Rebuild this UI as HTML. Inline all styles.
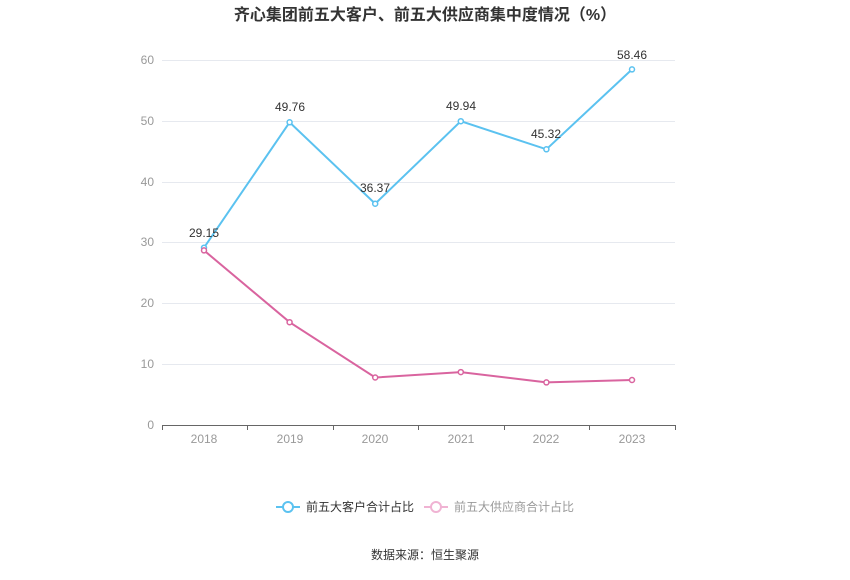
<!DOCTYPE html>
<html><head><meta charset="utf-8"><style>
body{margin:0;background:#fff;font-family:"Liberation Sans","Noto Sans CJK SC",sans-serif}
</style></head><body>
<svg width="850" height="575" xmlns="http://www.w3.org/2000/svg" font-family="Liberation Sans, Noto Sans CJK SC, sans-serif">
<text x="425" y="20" text-anchor="middle" font-size="16" font-weight="bold" fill="#333">齐心集团前五大客户、前五大供应商集中度情况（%）</text>
<g stroke="#e6e9ef" stroke-width="1">
<line x1="162" x2="675" y1="60.5" y2="60.5"/><line x1="162" x2="675" y1="121.5" y2="121.5"/>
<line x1="162" x2="675" y1="182.5" y2="182.5"/><line x1="162" x2="675" y1="242.5" y2="242.5"/>
<line x1="162" x2="675" y1="303.5" y2="303.5"/><line x1="162" x2="675" y1="364.5" y2="364.5"/>
</g>
<line x1="162" x2="675" y1="425.5" y2="425.5" stroke="#666"/>
<g stroke="#666"><line x1="162.5" x2="162.5" y1="425" y2="430"/><line x1="247.5" x2="247.5" y1="425" y2="430"/><line x1="333.5" x2="333.5" y1="425" y2="430"/><line x1="418.5" x2="418.5" y1="425" y2="430"/><line x1="504.5" x2="504.5" y1="425" y2="430"/><line x1="589.5" x2="589.5" y1="425" y2="430"/><line x1="675.5" x2="675.5" y1="425" y2="430"/></g>
<g font-size="12" fill="#999" text-anchor="end">
<text x="154" y="64">60</text><text x="154" y="125">50</text><text x="154" y="186">40</text><text x="154" y="246">30</text><text x="154" y="307">20</text><text x="154" y="368">10</text><text x="154" y="429">0</text></g>
<g font-size="12" fill="#999" text-anchor="middle">
<text x="204" y="443">2018</text><text x="290" y="443">2019</text><text x="375" y="443">2020</text><text x="461" y="443">2021</text><text x="546" y="443">2022</text><text x="632" y="443">2023</text></g>
<polyline fill="none" stroke="#5bc2f0" stroke-width="2" points="204,247.7 289.6,122.3 375.2,203.7 460.8,121.2 546.4,149.3 632,69.4"/>
<polyline fill="none" stroke="#d9649f" stroke-width="2" points="204,250.4 289.6,322.2 375.2,377.5 460.8,372.1 546.4,382.4 632,380"/>
<g fill="#fff" stroke="#5bc2f0" stroke-width="1.5">
<circle cx="204" cy="247.7" r="2.5"/><circle cx="289.6" cy="122.3" r="2.5"/><circle cx="375.2" cy="203.7" r="2.5"/><circle cx="460.8" cy="121.2" r="2.5"/><circle cx="546.4" cy="149.3" r="2.5"/><circle cx="632" cy="69.4" r="2.5"/></g>
<g fill="#fff" stroke="#d9649f" stroke-width="1.5">
<circle cx="204" cy="250.4" r="2.5"/><circle cx="289.6" cy="322.2" r="2.5"/><circle cx="375.2" cy="377.5" r="2.5"/><circle cx="460.8" cy="372.1" r="2.5"/><circle cx="546.4" cy="382.4" r="2.5"/><circle cx="632" cy="380" r="2.5"/></g>
<g font-size="12" fill="#333" text-anchor="middle">
<text x="204" y="237">29.15</text><text x="290" y="111">49.76</text><text x="375" y="192">36.37</text><text x="461" y="110">49.94</text><text x="546" y="138">45.32</text><text x="632" y="59">58.46</text></g>
<line x1="276" x2="300" y1="507" y2="507" stroke="#5bc2f0" stroke-width="2"/>
<circle cx="288" cy="507" r="5" fill="#fff" stroke="#5bc2f0" stroke-width="2"/>
<text x="306" y="511" font-size="12" fill="#333">前五大客户合计占比</text>
<line x1="424" x2="448" y1="507" y2="507" stroke="#f0b3d3" stroke-width="2"/>
<circle cx="436" cy="507" r="5" fill="#fff" stroke="#f0b3d3" stroke-width="2"/>
<text x="454" y="511" font-size="12" fill="#999">前五大供应商合计占比</text>
<text x="425" y="559" text-anchor="middle" font-size="12" fill="#333">数据来源：恒生聚源</text>
</svg>
</body></html>
